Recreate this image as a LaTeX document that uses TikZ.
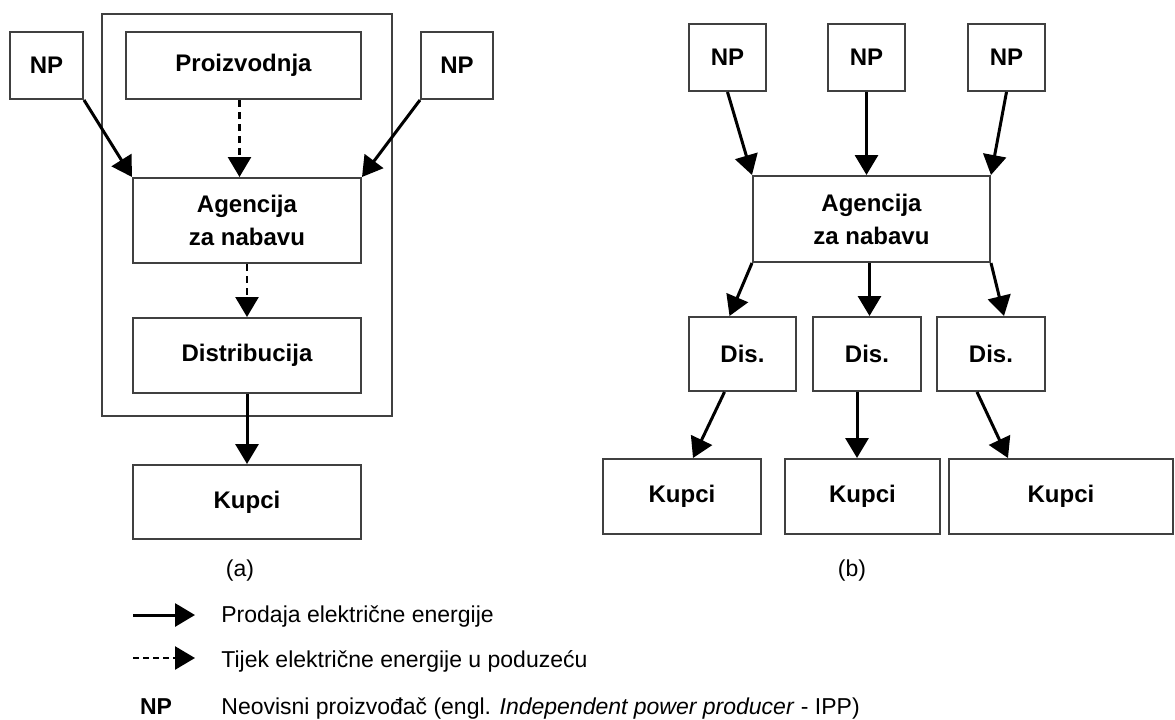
\documentclass[tikz,border=0pt]{standalone}
\usepackage{fontspec}
\setmainfont{Liberation Sans}
\usetikzlibrary{arrows.meta}
\tikzset{
  box/.style={draw=black!75, line width=1pt, inner sep=0pt, align=center,
    font=\bfseries\fontsize{12}{16.5}\selectfont},
  arr/.style={line width=1.5pt, -{Triangle[length=10pt,width=11.5pt]}},
  darr/.style={line width=1.3pt, dash pattern=on 3.5pt off 2.5pt, -{Triangle[length=10pt,width=11.5pt]}},
  lbl/.style={font=\fontsize{11.5}{14}\selectfont, inner sep=0pt},
}
\newcommand\bx[6]{\node[box, minimum width={(#4-#2)*0.5pt}, minimum height={(#5-#3)*0.5pt}] (#1) at ({(#2+#4)/2},{(#3+#5)/2}) {#6};}
\begin{document}
\begin{tikzpicture}[x=0.5pt,y=-0.5pt]
\useasboundingbox (0,0) rectangle (1175,719);
% ---- (a)
\bx{util}{102}{14}{392}{416}{}
\bx{npL}{10}{32}{83}{99}{NP}
\bx{prod}{126}{32}{361}{99}{Proizvodnja}
\bx{npR}{421}{32}{493}{99}{NP}
\bx{agA}{133}{178}{361}{263}{Agencija\\za nabavu}
\bx{dist}{133}{318}{361}{393}{Distribucija}
\bx{kupA}{133}{465}{361}{539}{Kupci}
\draw[arr] (npL.south east) -- (agA.north west);
\draw[arr] (npR.south west) -- (agA.north east);
\draw[darr] ([xshift=-2pt]prod.south) -- ([xshift=-2pt]prod.south |- agA.north);
\draw[darr] (agA.south) -- (dist.north);
\draw[arr] (dist.south) -- (kupA.north);
\node[lbl] (capA) at (240,571) {(a)};
% ---- (b)
\bx{np1}{689}{24}{766}{91}{NP}
\bx{np2}{828}{24}{905}{91}{NP}
\bx{np3}{968}{24}{1045}{91}{NP}
\bx{agB}{753}{176}{990}{262}{Agencija\\za nabavu}
\bx{dis1}{689}{317}{796}{391}{Dis.}
\bx{dis2}{813}{317}{921}{391}{Dis.}
\bx{dis3}{937}{317}{1045}{391}{Dis.}
\bx{kup1}{603}{459}{761}{534}{Kupci}
\bx{kup2}{785}{459}{940}{534}{Kupci}
\bx{kup3}{949}{459}{1173}{534}{Kupci}
\draw[arr] (np1.south) -- (agB.north west);
\draw[arr] (np2.south) -- (np2.south |- agB.north);
\draw[arr] (np3.south) -- (agB.north east);
\draw[arr] (agB.south west) -- ([xshift=-6.5pt]dis1.north);
\draw[arr] ([xshift=-1pt]agB.south) -- ([xshift=-1pt]agB.south |- dis2.north);
\draw[arr] (agB.south east) -- ([xshift=6.5pt]dis3.north);
\draw[arr] ([xshift=-9pt]dis1.south) -- ([xshift=5.5pt]kup1.north);
\draw[arr] ([xshift=-5pt]dis2.south) -- ([xshift=-5pt]dis2.south |- kup2.north);
\draw[arr] ([xshift=-7pt]dis3.south) -- ([xshift=-26.5pt]kup3.north);
\node[lbl] (capB) at (852,571) {(b)};
% ---- legend
\coordinate (l1s) at (133,615); \coordinate (l1e) at (195,615);
\coordinate (l2s) at (133,658); \coordinate (l2e) at (195,658);
\draw[arr] (l1s) -- (l1e);
\draw[line width=1.3pt, dash pattern=on 3pt off 2pt, -{Triangle[length=10pt,width=11.5pt]}] (l2s) -- (l2e);
\node[lbl, anchor=base west] (t1) at (221,622) {Prodaja električne energije};
\node[lbl, anchor=base west] (t2) at (221,667) {Tijek električne energije u poduzeću};
\node[lbl, anchor=base] (t3n) at (156,714) {\bfseries NP};
\node[lbl, anchor=base west] (t3) at (221,714) {Neovisni proizvođač (engl. \textit{Independent power producer} - IPP)};
\end{tikzpicture}
\end{document}
